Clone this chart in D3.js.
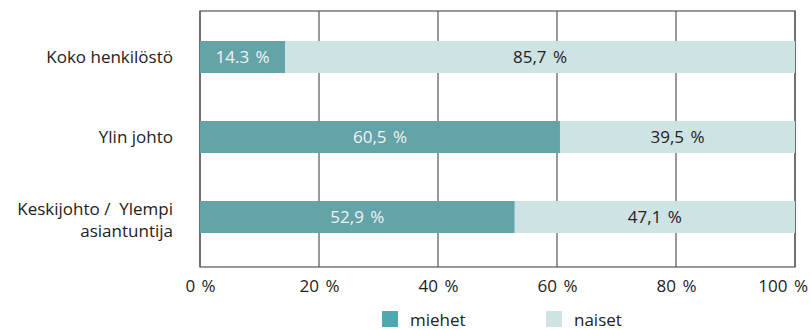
<!DOCTYPE html>
<html>
<head>
<meta charset="utf-8">
<script src="https://cdn.jsdelivr.net/npm/d3@7"></script>
<style>
  body { margin: 0; background: #fff; }
  text { font-family: "Open Sans", "Noto Sans", sans-serif; white-space: pre; }
</style>
</head>
<body>
<svg id="chart" width="811" height="330"></svg>
<script>
const categories = [["Koko henkilöstö"], ["Ylin johto"], ["Keskijohto /  Ylempi", "asiantuntija"]];
const miehet = [14.3, 60.5, 52.9];
const naiset = [85.7, 39.5, 47.1];
const miehetLabels = ["14.3 %", "60,5 %", "52,9 %"];
const naisetLabels = ["85,7 %", "39,5 %", "47,1 %"];
const tickValues = [0, 20, 40, 60, 80, 100];
const seriesNames = ["miehet", "naiset"];

(function () {
const colMen = "#64a3a8";
const colWomen = "#cde3e4";
const frame = "#555";
const fs = 17;

const svg = d3.select("#chart");
const plotLeft = 200, plotRight = 795, plotTop = 11, plotBottom = 267;

const x = d3.scaleLinear().domain([0, 100]).range([plotLeft, plotRight]);
const keys = categories.map(c => c.join(" "));
const y = d3.scaleBand().domain(keys).range([17, 257]).paddingInner(0.6).paddingOuter(0.3);

// vertical grid lines
svg.append("g").selectAll("line").data(tickValues).join("line")
  .attr("x1", d => x(d)).attr("x2", d => x(d))
  .attr("y1", plotTop).attr("y2", plotBottom)
  .attr("stroke", frame).attr("stroke-width", 1.2);

// frame
svg.append("rect").attr("x", plotLeft).attr("y", plotTop)
  .attr("width", plotRight - plotLeft).attr("height", plotBottom - plotTop)
  .attr("fill", "none").attr("stroke", frame).attr("stroke-width", 1.2);

// stacked bars
const rows = keys.map((k, i) => ({ k, m: miehet[i], n: naiset[i], ml: miehetLabels[i], nl: naisetLabels[i] }));
const g = svg.append("g");
g.selectAll(".m").data(rows).join("rect")
  .attr("x", x(0)).attr("y", d => y(d.k))
  .attr("width", d => x(d.m) - x(0)).attr("height", y.bandwidth())
  .attr("fill", colMen);
g.selectAll(".n").data(rows).join("rect")
  .attr("x", d => x(d.m)).attr("y", d => y(d.k))
  .attr("width", d => x(d.m + d.n) - x(d.m)).attr("height", y.bandwidth())
  .attr("fill", colWomen);

// value labels
g.selectAll(".ml").data(rows).join("text")
  .attr("x", d => x(d.m / 2)).attr("y", d => y(d.k) + y.bandwidth() / 2)
  .attr("dy", "0.35em").attr("text-anchor", "middle")
  .attr("font-size", fs).attr("word-spacing", 2).attr("fill", "#eef5f5")
  .text(d => d.ml);
g.selectAll(".nl").data(rows).join("text")
  .attr("x", d => x(d.m + d.n / 2)).attr("y", d => y(d.k) + y.bandwidth() / 2)
  .attr("dy", "0.35em").attr("text-anchor", "middle")
  .attr("font-size", fs).attr("word-spacing", 2).attr("fill", "#222")
  .text(d => d.nl);

// category labels
const cl = svg.append("g").selectAll("text").data(categories).join("text")
  .attr("x", 173).attr("text-anchor", "end")
  .attr("font-size", fs).attr("fill", "#222")
  .attr("y", (d, i) => y(keys[i]) + y.bandwidth() / 2 - (d.length - 1) * 8);
cl.selectAll("tspan").data(d => d).join("tspan")
  .attr("x", 173).attr("dy", (d, i) => i === 0 ? "0.35em" : 22)
  .text(d => d);

// x axis tick labels
const axis = d3.axisBottom(x).tickValues(tickValues).tickSize(0).tickPadding(13).tickFormat(d => d + " %");
const ax = svg.append("g").attr("transform", `translate(0,${plotBottom})`).call(axis);
ax.select(".domain").remove();
ax.selectAll("text").attr("font-size", fs).attr("fill", "#222").attr("word-spacing", 2)
  .style("font-family", '"Open Sans", "Noto Sans", sans-serif');
// keep the last label inside the canvas
ax.selectAll("text").each(function () {
  const bb = this.getBBox();
  const tx = d3.select(this.parentNode).attr("transform");
  const px = +tx.match(/translate\(([-\d.]+)/)[1];
  const overflow = px + bb.x + bb.width - 808;
  if (overflow > 0) d3.select(this).attr("x", -overflow);
});

// legend
const legendX = [382, 546];
const lg = svg.append("g").selectAll("g").data(seriesNames).join("g")
  .attr("transform", (d, i) => `translate(${legendX[i]},311)`);
lg.append("rect").attr("width", 16).attr("height", 16)
  .attr("fill", (d, i) => i === 0 ? "#4fa8ad" : colWomen);
lg.append("text").attr("x", 28).attr("y", 15)
  .attr("font-size", fs).attr("fill", "#222").text(d => d);
})();
</script>
</body>
</html>
